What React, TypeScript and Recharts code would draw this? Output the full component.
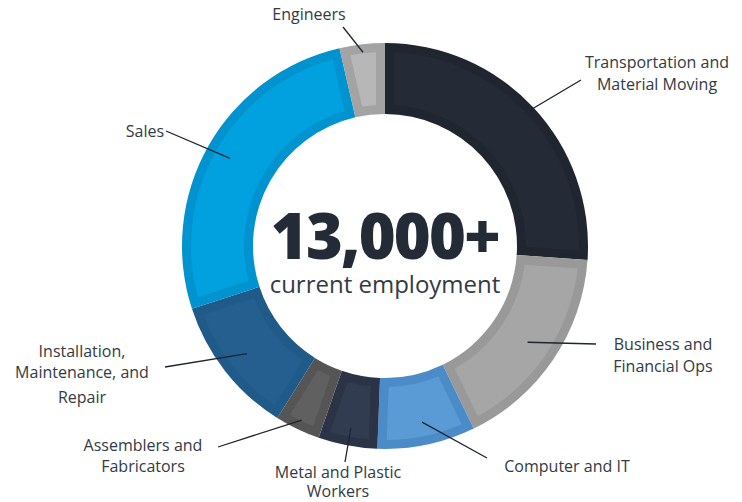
import React from 'react';
import { PieChart, Pie, Cell } from 'recharts';

const categories = [
  'Transportation and Material Moving',
  'Business and Financial Ops',
  'Computer and IT',
  'Metal and Plastic Workers',
  'Assemblers and Fabricators',
  'Installation, Maintenance, and Repair',
  'Sales',
  'Engineers',
];
const shares = [26.1, 16.7, 7.8, 4.7, 3.6, 11.1, 26.4, 3.6];
const labelTexts = [
  ['Transportation and', 'Material Moving'],
  ['Business and', 'Financial Ops'],
  ['Computer and IT'],
  ['Metal and Plastic', 'Workers'],
  ['Assemblers and', 'Fabricators'],
  ['Installation,', 'Maintenance, and', 'Repair'],
  ['Sales'],
  ['Engineers'],
];
const totalLabel = '13,000+';
const subtitle = 'current employment';

// styles
const borderColors = ['#1f2630', '#999999', '#4b8bc7', '#2b3446', '#555555', '#1f5a89', '#0093cf', '#a3a3a3'];
const fillColors = ['#242b36', '#a6a6a6', '#5a9bd6', '#323c50', '#606060', '#245f90', '#00a1de', '#b7b7b7'];

// label layout: anchor radius inside ring, line end, text center x, baselines
const labelLayout = [
  { r: 200, end: [581, 80], x: 657, ys: [68, 90] },
  { r: 172, end: [596, 344], x: 663, ys: [350, 372] },
  { r: 180, end: [487, 458], x: 567, ys: [472] },
  { r: 185, end: [345, 462], x: 338, ys: [478, 497] },
  { r: 193, end: [218, 447], x: 143, ys: [451, 472] },
  { r: 175, end: [165, 367], x: 82, ys: [357, 378, 403] },
  { r: 178, end: [166, 131], x: 145, ys: [137] },
  { r: 195, end: [343, 27], x: 309, ys: [20] },
];

const data = categories.map((name, i) => ({ name, value: shares[i] }));

const RAD = Math.PI / 180;
const pt = (cx: number, cy: number, r: number, a: number) => [cx + r * Math.cos(a * RAD), cy - r * Math.sin(a * RAD)];

function insetPath(cx: number, cy: number, ri: number, ro: number, a1: number, a2: number, d: number) {
  const hi = Math.max(a1, a2);
  const lo = Math.min(a1, a2);
  const ro2 = ro - d;
  const ri2 = ri + d;
  const dOut = Math.asin(d / ro2) / RAD;
  const dIn = Math.asin(d / ri2) / RAD;
  const oS = hi - dOut, oE = lo + dOut, iS = lo + dIn, iE = hi - dIn;
  if (oS <= oE || iE <= iS) return '';
  const p1 = pt(cx, cy, ro2, oS);
  const p2 = pt(cx, cy, ro2, oE);
  const p3 = pt(cx, cy, ri2, iS);
  const p4 = pt(cx, cy, ri2, iE);
  const lo1 = oS - oE > 180 ? 1 : 0;
  const lo2 = iE - iS > 180 ? 1 : 0;
  return `M${p1[0]},${p1[1]} A${ro2},${ro2} 0 ${lo1} 1 ${p2[0]},${p2[1]} L${p3[0]},${p3[1]} A${ri2},${ri2} 0 ${lo2} 0 ${p4[0]},${p4[1]} Z`;
}

const FONT = '"Open Sans", "Noto Sans", sans-serif';

const renderLabel = (props: any) => {
  const { cx, cy, innerRadius, outerRadius, startAngle, endAngle, midAngle, index } = props;
  const lay = labelLayout[index];
  const anchor = pt(cx, cy, lay.r, midAngle);
  return (
    <g key={`lbl-${index}`}>
      <path d={insetPath(cx, cy, innerRadius, outerRadius, startAngle, endAngle, 9)} fill={fillColors[index]} stroke="none" />
      <line x1={anchor[0]} y1={anchor[1]} x2={lay.end[0]} y2={lay.end[1]} stroke="#1e2530" strokeWidth={1.3} />
      {labelTexts[index].map((t, j) => (
        <text key={j} x={lay.x} y={lay.ys[j]} textAnchor="middle" fontFamily={FONT} fontSize={16} fill="#333a44">
          {t}
        </text>
      ))}
      {index === 0 && (
        <g>
          <text x={cx} y={cy + 13} textAnchor="middle" fontFamily={FONT} fontWeight={800} fontSize={63} letterSpacing={-1.8} fill="#232b36">
            {totalLabel}
          </text>
          <text x={cx} y={cy + 47} textAnchor="middle" fontFamily={FONT} fontSize={24} fill="#333a44">
            {subtitle}
          </text>
        </g>
      )}
    </g>
  );
};

export default function App() {
  return (
    <div style={{ position: 'absolute', left: 0, top: 0, width: 742, height: 502, background: '#fff' }}>
      <PieChart width={742} height={502} margin={{ top: 0, right: 0, bottom: 0, left: 0 }}>
        <Pie
          data={data}
          dataKey="value"
          nameKey="name"
          cx={385}
          cy={246}
          innerRadius={132}
          outerRadius={203}
          startAngle={90}
          endAngle={-270}
          stroke="none"
          isAnimationActive={false}
          label={renderLabel}
          labelLine={false}
        >
          {data.map((d, i) => (
            <Cell key={d.name} fill={borderColors[i]} />
          ))}
        </Pie>
      </PieChart>
    </div>
  );
}
